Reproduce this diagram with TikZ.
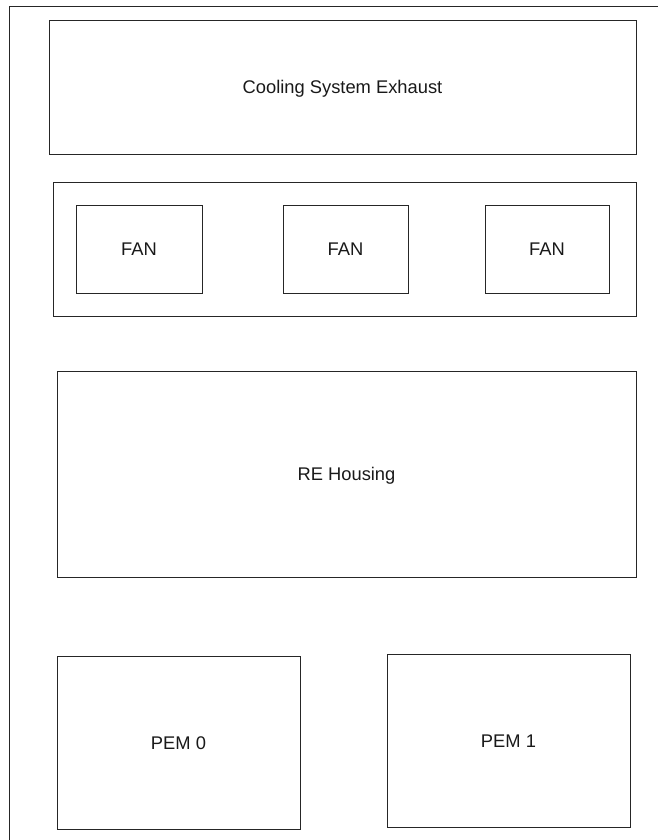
\documentclass[tikz,border=0pt]{standalone}
\usepackage{fontspec}
\setmainfont{Liberation Sans}
\begin{document}
\begin{tikzpicture}[x=1bp,y=-1bp,
  box/.style={draw=black!85,line width=0.9bp,inner sep=0pt,outer sep=0pt,
    font=\fontsize{18.4}{22}\selectfont,text=black!90,
    text height=13.2bp,text depth=0pt}]
\useasboundingbox (0,0) rectangle (658,840);
\draw[black!85,line width=0.9bp] (9,845) -- (9,6) -- (665,6);
\node[box,minimum width=587bp,minimum height=134bp] (exhaust) at (342.5,87) {Cooling System Exhaust};
\node[box,minimum width=583bp,minimum height=134bp] (fans) at (344.5,249) {};
\node[box,minimum width=126bp,minimum height=88bp] (fan1) at (139,249) {FAN};
\node[box,minimum width=125bp,minimum height=88bp] (fan2) at (345.5,249) {FAN};
\node[box,minimum width=124bp,minimum height=88bp] (fan3) at (547,249) {FAN};
\node[box,minimum width=579bp,minimum height=206bp] (re) at (346.5,474) {RE Housing};
\node[box,minimum width=243bp,minimum height=173bp] (pem0) at (178.5,742.5) {PEM 0};
\node[box,minimum width=243bp,minimum height=173bp] (pem1) at (508.5,740.5) {PEM 1};
\end{tikzpicture}
\end{document}
